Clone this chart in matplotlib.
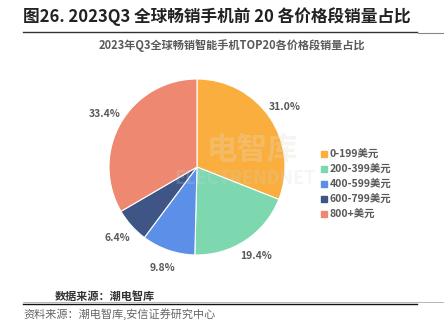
import matplotlib
matplotlib.use("Agg")
import matplotlib.pyplot as plt
from matplotlib.lines import Line2D

plt.rcParams['font.family'] = ['Noto Sans CJK SC', 'DejaVu Sans']

# Data
categories = ["0-199美元", "200-399美元", "400-599美元", "600-799美元", "800+美元"]
shares = [31.0, 19.4, 9.8, 6.4, 33.4]
colors = ["#F9AE3D", "#7DD8B0", "#5B8FE8", "#3E5585", "#EE8870"]

title = "图26. 2023Q3 全球畅销手机前 20 各价格段销量占比"
subtitle = "2023年Q3全球畅销智能手机TOP20各价格段销量占比"
source_inner = "数据来源：潮电智库"
source_outer = "资料来源：潮电智库,安信证券研究中心"

W, H = 444, 330
fig = plt.figure(figsize=(W / 100, H / 100), dpi=100)
fig.patch.set_facecolor("white")

def fx(px):
    return px / W

def fy(py):
    return 1 - py / H

# Pie axes: centre (197,167) px, radius 88 px
cx, cy, r = 197, 167, 88
ax = fig.add_axes([fx(cx - r), fy(cy + r), 2 * r / W, 2 * r / H])
wedges, texts, autotexts = ax.pie(
    shares, colors=colors, startangle=90, counterclock=False,
    autopct="%.1f%%", pctdistance=1.21,
    wedgeprops=dict(edgecolor="white", linewidth=0.8),
    textprops=dict(fontsize=7.5, color="#595959", fontweight="bold"),
)
ax.set_xlim(-1, 1)
ax.set_ylim(-1, 1)
ax.set_aspect("equal")

# faint watermark
fig.text(fx(252), fy(150), "电智库", fontsize=22, color="#E9DCCB", alpha=0.3,
         ha="center", va="center", fontweight="bold")
fig.text(fx(245), fy(178), "ELECTRENDNET", fontsize=13, color="#D0D6DC", alpha=0.22,
         ha="center", va="center", fontweight="bold")

# Legend
leg_y = [154, 169, 184, 199, 214]
for c, lab, y in zip(colors, categories, leg_y):
    fig.patches.append(plt.Rectangle((fx(321), fy(y + 3)), 6 / W, 6 / H,
                                     transform=fig.transFigure, color=c))
    fig.text(fx(330), fy(y), lab, fontsize=7.5, color="#595959",
             fontweight="bold", ha="left", va="center")

# Titles
fig.text(fx(23), fy(17), title, fontsize=12, color="#222222", fontweight="bold",
         ha="left", va="center")
fig.add_artist(Line2D([fx(23), fx(417)], [fy(31.5), fy(31.5)], color="#333333",
                      linewidth=1.0, transform=fig.transFigure))
fig.add_artist(Line2D([fx(418), fx(444)], [fy(32.5), fy(32.5)], color="#888888",
                      linewidth=0.8, transform=fig.transFigure))
fig.text(fx(232), fy(45), subtitle, fontsize=8, color="#595959", fontweight="bold",
         ha="center", va="center")

# Sources
fig.text(fx(55), fy(296), source_inner, fontsize=8, color="#333333", fontweight="bold",
         ha="left", va="center")
fig.add_artist(Line2D([fx(23), fx(444)], [fy(302), fy(302)], color="#AAAAAA",
                      linewidth=0.6, transform=fig.transFigure))
fig.add_artist(Line2D([fx(23), fx(417)], [fy(304), fy(304)], color="#111111",
                      linewidth=1.0, transform=fig.transFigure))
fig.text(fx(23), fy(314), source_outer, fontsize=8, color="#666666", style="italic",
         ha="left", va="center")

fig.savefig("out.png", dpi=100, facecolor="white")
